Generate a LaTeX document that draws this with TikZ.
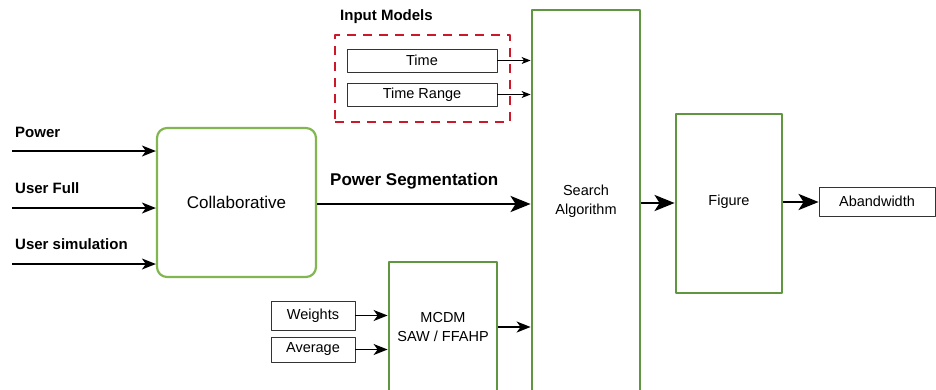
\documentclass[tikz,border=0pt]{standalone}
\usepackage{fontspec}
\setmainfont{Liberation Sans}
\usetikzlibrary{arrows.meta}

\definecolor{softgreen}{RGB}{130,182,80}
\definecolor{darkgreen}{RGB}{96,150,64}
\definecolor{dashred}{RGB}{204,24,40}

\tikzset{
  block/.style={draw=darkgreen, line width=2.8pt, align=center, inner sep=0pt,
    font=\fontsize{14.5}{19}\selectfont},
  tag/.style={draw=black!80, line width=0.8pt, inner sep=0pt,
    font=\fontsize{14.5}{16}\selectfont},
  caption/.style={anchor=west, inner sep=0pt, font=\bfseries\fontsize{15}{17}\selectfont},
  thinarr/.style={-{Stealth[length=14pt,width=11pt,inset=4pt]}, line width=1.6pt},
  tinyarr/.style={-{Stealth[length=9pt,width=7pt,inset=2.5pt]}, line width=1pt},
  bigarr/.style={-{Stealth[length=20pt,width=16pt,inset=5pt]}, line width=2.8pt},
}

\begin{document}
\begin{tikzpicture}[x=1pt, y=-1pt, line join=round]
  \useasboundingbox (0,0) rectangle (936,389);

  % main blocks
  \node[draw=softgreen, line width=2.2pt, rounded corners=10pt, minimum width=159pt,
    minimum height=149pt, font=\fontsize{17}{20}\selectfont] (collab) at (236.5,202.5) {Collaborative};
  \node[block, minimum width=108pt, minimum height=382pt] (search) at (586,201) {Search\\Algorithm};
  \node[block, minimum width=108pt, minimum height=130pt] (mcdm) at (443,327) {MCDM\\SAW / FFAHP};
  \node[block, minimum width=106pt, minimum height=179pt] (figure) at (729,203.5) {\raisebox{7pt}{Figure}};

  % small boxes
  \node[tag, minimum width=116pt, minimum height=29pt] (abw) at (877,201.5) {Abandwidth};
  \node[tag, minimum width=150pt, minimum height=23pt] (time) at (422,60.5) {Time};
  \node[tag, minimum width=150pt, minimum height=23pt] (trange) at (422,94.5) {Time Range};
  \node[tag, minimum width=84pt, minimum height=29pt] (weights) at (313,315.5) {Weights};
  \node[tag, minimum width=84pt, minimum height=25pt] (average) at (313,349.5) {Average};

  % input models frame
  \node[draw=dashred, line width=1.6pt, dash pattern=on 9pt off 7pt, minimum width=175pt,
    minimum height=87pt] (models) at (422.5,78.5) {};
  \node[caption] (modelslbl) at (340,17) {Input Models};

  % inputs
  \coordinate (pin) at (12,151);
  \coordinate (fin) at (12,208);
  \coordinate (sin) at (12,264);
  \node[caption] (powerlbl) at (15,132) {Power};
  \node[caption] (fulllbl) at (15,188) {User Full};
  \node[caption] (simlbl) at (15,244) {User simulation};
  \draw[thinarr] (pin) -- (pin -| collab.west);
  \draw[thinarr] (fin) -- (fin -| collab.west);
  \draw[thinarr] (sin) -- (sin -| collab.west);

  \node[caption, font=\bfseries\fontsize{17}{19}\selectfont] (seglbl) at (330,181) {Power Segmentation};
  \draw[bigarr] (collab.east |- 0,204) -- (search.west |- 0,204);

  \draw[tinyarr] (time.east) -- (time.east -| search.west);
  \draw[tinyarr] (trange.east) -- (trange.east -| search.west);
  \draw[thinarr] (weights.east) -- (weights.east -| mcdm.west);
  \draw[thinarr] (average.east) -- (average.east -| mcdm.west);
  \draw[thinarr] (mcdm.east) -- (mcdm.east -| search.west);

  \draw[bigarr] (search.east |- 0,203) -- (figure.west |- 0,203);
  \draw[bigarr] (figure.east |- 0,202) -- (abw.west |- 0,202);
\end{tikzpicture}
\end{document}
